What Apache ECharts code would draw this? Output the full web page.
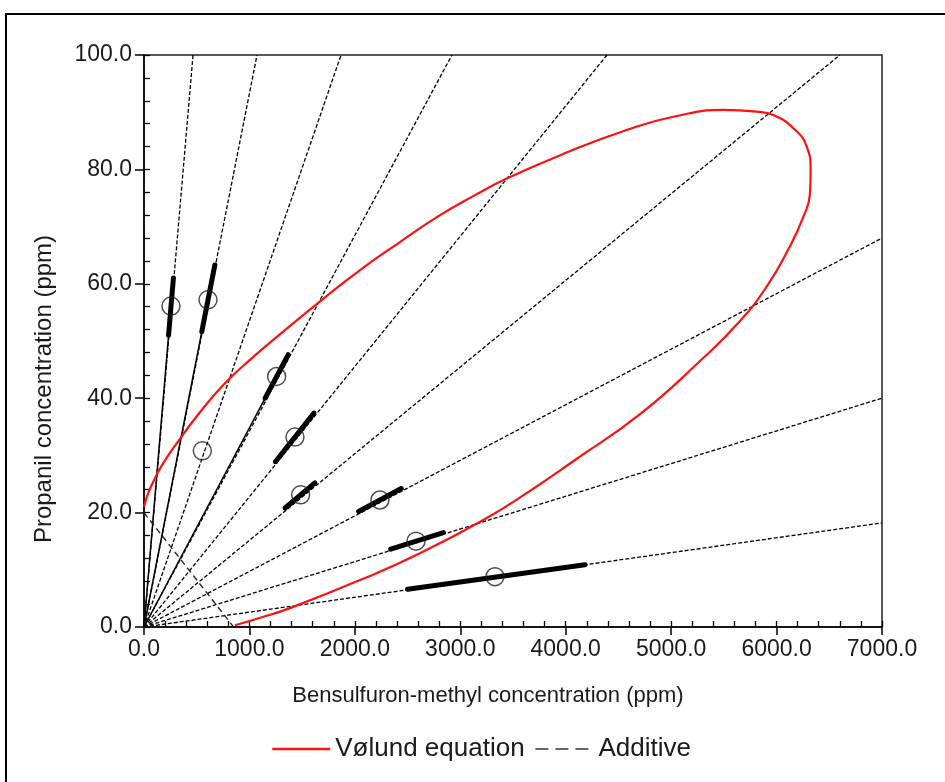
<!DOCTYPE html>
<html>
<head>
<meta charset="utf-8">
<script src="https://cdn.jsdelivr.net/npm/echarts@6/dist/echarts.min.js"></script>
<style>
html, body { margin: 0; padding: 0; background: #fff; }
#chart { width: 945px; height: 782px; }
</style>
</head>
<body>
<div id="chart"></div>
<script>
// additive rays from the origin, end point at the plot edge
var rayEnds = [[465, 100], [1072, 100], [1869, 100], [2921, 100], [4391, 100], [6601, 100], [7000, 68.0], [7000, 40.0], [7000, 18.2]];
// observed mixtures (open circles)
var observed = [[256, 56.1], [607, 57.2], [553, 30.8], [1258, 43.8], [1432, 33.2], [1486, 23.1], [2238, 22.2], [2580, 15.0], [3329, 8.8]];
// confidence limits along each ray (lower, upper); null = none drawn
var ciLow = [[233, 51.0], [548, 51.6], null, [1149, 40.0], [1246, 28.9], [1338, 20.8], [2036, 20.2], [2340, 13.6], [2500, 6.6]];
var ciHigh = [[279, 61.0], [672, 63.3], null, [1368, 47.6], [1612, 37.4], [1621, 25.2], [2440, 24.2], [2840, 16.5], [4183, 10.9]];
// rays drawn solid from origin up to the lower limit
var solidRays = [0, 1, 3];
// Vølund equation isobole
var volund = [[0, 21.0], [38, 23.3], [88, 25.4], [171, 28.3], [310, 32.1], [512, 37.1], [752, 42.3], [1005, 46.7],
  [1337, 51.9], [1688, 57.2], [2049, 62.4], [2428, 67.3], [2808, 72.0], [3140, 75.5], [3440, 78.4], [4003, 82.9],
  [4578, 86.9], [5021, 89.2], [5495, 90.4], [5811, 90.1], [5969, 89.5], [6159, 87.2], [6286, 84.0], [6323, 79.9],
  [6317, 75.8], [6254, 71.7], [6108, 65.9], [5909, 59.6], [5653, 53.5], [5274, 46.5], [4705, 37.2], [4088, 29.2],
  [3661, 23.8], [3218, 18.7], [2618, 12.9], [2049, 8.2], [1385, 3.3], [1119, 1.7], [863, 0.3]];
// additive isobole
var additive = [[0, 20], [850, 0]];

var font = 'Liberation Sans, Arial, sans-serif';
var txt = '#1a1a1a';

var series = [];
rayEnds.forEach(function (end) {
  series.push({
    type: 'line', data: [[0, 0], end], symbol: 'none', silent: true,
    lineStyle: { color: '#000', width: 1.3, type: [4, 2] }
  });
});
solidRays.forEach(function (i) {
  series.push({
    type: 'line', data: [[0, 0], ciLow[i]], symbol: 'none', silent: true,
    lineStyle: { color: '#000', width: 1.5 }
  });
});
ciLow.forEach(function (lo, i) {
  if (!lo) return;
  series.push({
    type: 'line', data: [lo, ciHigh[i]], symbol: 'none', silent: true,
    lineStyle: { color: '#000', width: 5, cap: 'round' }
  });
});
series.push({
  name: 'Vølund equation', type: 'line', data: volund, symbol: 'none', smooth: 0.5,
  itemStyle: { color: '#ff1010' },
  lineStyle: { color: '#ff1010', width: 2.2 }, z: 3
});
series.push({
  name: 'Additive', type: 'line', data: additive, symbol: 'none',
  itemStyle: { color: '#222' },
  lineStyle: { color: '#222', width: 1.4, type: [6, 4] }
});
series.push({
  type: 'scatter', data: observed, symbol: 'circle', symbolSize: 18,
  itemStyle: { color: 'rgba(0,0,0,0)', borderColor: '#222', borderWidth: 1.5 }, z: 4
});

var chart = echarts.init(document.getElementById('chart'));
chart.setOption({
  animation: false,
  backgroundColor: '#fff',
  graphic: [{
    type: 'rect', shape: { x: 6, y: 14, width: 960, height: 800 },
    style: { fill: 'none', stroke: '#000', lineWidth: 2 }, silent: true
  }],
  grid: {
    left: 144, right: 63, top: 55, bottom: 155,
    show: true, borderColor: '#222', borderWidth: 1.5, backgroundColor: 'transparent'
  },
  legend: {
    left: 266, top: 731, itemWidth: 58, itemHeight: 14, itemGap: 10,
    itemStyle: { opacity: 0 },
    textStyle: { fontFamily: font, fontSize: 26, color: txt },
    data: [
      { name: 'Vølund equation', lineStyle: { color: '#ff1010', width: 2.5 } },
      { name: 'Additive', lineStyle: { type: [13, 7], width: 1.6, color: '#333' } }
    ]
  },
  xAxis: [{
    type: 'value', min: 0, max: 7000, interval: 1000,
    name: 'Bensulfuron-methyl concentration (ppm)', nameLocation: 'middle', nameGap: 58,
    nameTextStyle: { fontFamily: font, fontSize: 22, color: txt, padding: [0, 50, 0, 0] },
    axisLine: { lineStyle: { color: '#000', width: 1.5 } },
    axisTick: { length: 8, lineStyle: { color: '#000', width: 1.5 } },
    axisLabel: { fontFamily: font, fontSize: 23, color: txt, margin: 11,
      formatter: function (v) { return v.toFixed(1); } },
    splitLine: { show: false }
  }, {
    type: 'value', min: 0, max: 7000, interval: 200, position: 'bottom', offset: 0,
    axisLine: { show: false },
    axisTick: { inside: true, length: 6, lineStyle: { color: '#000', width: 1.3 } },
    axisLabel: { show: false }, splitLine: { show: false }
  }],
  yAxis: [{
    type: 'value', min: 0, max: 100, interval: 20,
    name: 'Propanil concentration (ppm)', nameLocation: 'middle', nameGap: 88,
    nameTextStyle: { fontFamily: font, fontSize: 24, color: txt, padding: [0, 96, 0, 0] },
    axisLine: { show: true, lineStyle: { color: '#000', width: 1.5 } },
    axisTick: { show: true, length: 9, lineStyle: { color: '#000', width: 1.5 } },
    axisLabel: { fontFamily: font, fontSize: 23, color: txt, margin: 12,
      formatter: function (v) { return v.toFixed(1); } },
    splitLine: { show: false }
  }, {
    type: 'value', min: 0, max: 100, interval: 4, position: 'left', offset: 0,
    axisLine: { show: false },
    axisTick: { show: true, inside: true, length: 6, lineStyle: { color: '#000', width: 1.3 } },
    axisLabel: { show: false }, splitLine: { show: false }
  }],
  series: series
});
</script>
</body>
</html>
